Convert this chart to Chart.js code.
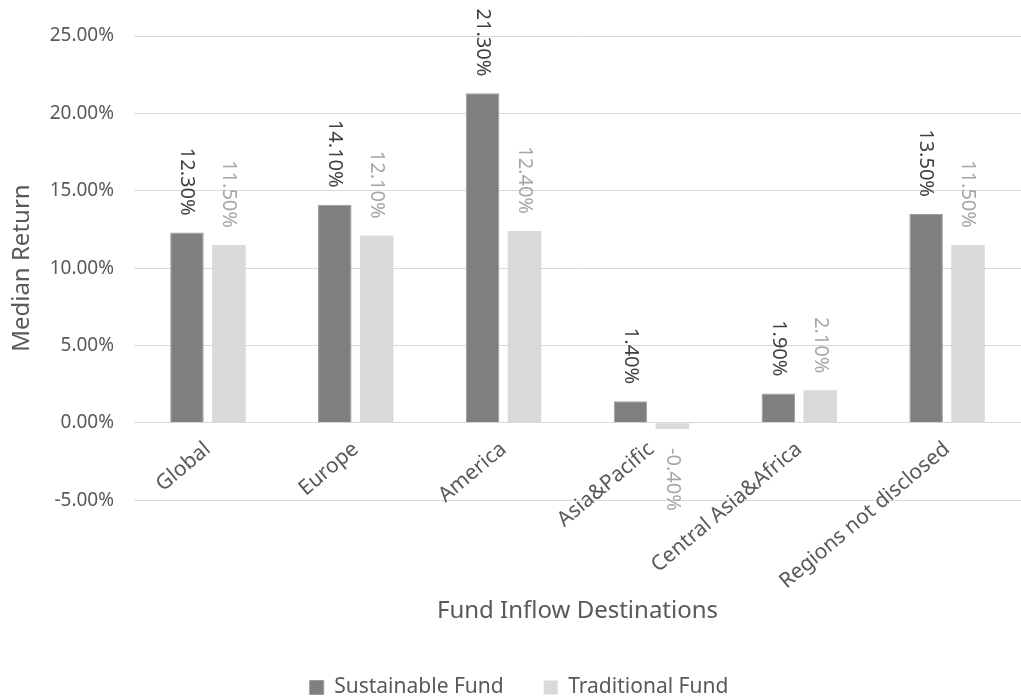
<!DOCTYPE html>
<html>
<head>
<meta charset="utf-8">
<script src="https://cdn.jsdelivr.net/npm/chart.js@4"></script>
<style>
  html, body { margin: 0; padding: 0; background: #fff; overflow: hidden; }
  #wrap { width: 1021px; height: 696px; position: relative; }
</style>
</head>
<body>
<div id="wrap"><canvas id="chart"></canvas></div>
<script>
const regions = ['Global', 'Europe', 'America', 'Asia&Pacific', 'Central Asia&Africa', 'Regions not disclosed'];
const sustainable = [12.3, 14.1, 21.3, 1.4, 1.9, 13.5];
const traditional = [11.5, 12.1, 12.4, -0.4, 2.1, 11.5];
const yMin = -5, yMax = 25, yStep = 5;

const FONT = '"Noto Sans", "DejaVu Sans", sans-serif';
const TEXT = '#595959';

// value labels, rotated like the excel ones
const barLabels = {
  id: 'barLabels',
  afterDatasetsDraw(chart) {
    const ctx = chart.ctx;
    chart.data.datasets.forEach((ds, i) => {
      const meta = chart.getDatasetMeta(i);
      meta.data.forEach((bar, j) => {
        const v = ds.data[j];
        ctx.save();
        ctx.font = '20px ' + FONT;
        ctx.fillStyle = ds.labelColor;
        ctx.textBaseline = 'middle';
        if (v >= 0) {
          ctx.translate(bar.x, bar.y - 17);
          ctx.textAlign = 'right';
        } else {
          ctx.translate(bar.x, bar.y + 19);
          ctx.textAlign = 'left';
        }
        ctx.rotate(Math.PI / 2);
        ctx.fillText(v.toFixed(2) + '%', 0, 0);
        ctx.restore();
      });
    });
  }
};

new Chart(document.getElementById('chart'), {
  type: 'bar',
  data: {
    labels: regions,
    datasets: [
      { label: 'Sustainable Fund', data: sustainable, backgroundColor: '#7f7f7f', borderColor: '#9c9c9c', borderWidth: 1, labelColor: '#404040' },
      { label: 'Traditional Fund', data: traditional, backgroundColor: '#d9d9d9', borderColor: '#d9d9d9', borderWidth: 0, labelColor: '#a6a6a6' }
    ]
  },
  options: {
    responsive: true,
    maintainAspectRatio: false,
    animation: false,
    categoryPercentage: 0.567,
    barPercentage: 0.8,
    layout: { padding: { left: 4, right: -13, top: 36, bottom: -12 } },
    scales: {
      x: {
        position: { y: 0 },
        afterFit: s => { s.height = 1; },
        grid: { display: false },
        border: { display: true, color: '#d9d9d9' },
        ticks: { color: TEXT, font: { family: FONT, size: 21 }, minRotation: 40, maxRotation: 40, autoSkip: false, padding: 6 }
      },
      y: {
        min: yMin, max: yMax,
        afterFit: s => { s.width = 130; },
        grid: { color: '#d9d9d9', drawTicks: false },
        border: { display: false },
        ticks: { stepSize: yStep, padding: 20, color: TEXT, font: { family: FONT, size: 19 }, callback: v => v.toFixed(2) + '%' },
        title: { display: true, text: 'Median Return', color: TEXT, font: { family: FONT, size: 24 } }
      }
    },
    plugins: {
      title: {
        display: true, text: 'Fund Inflow Destinations', position: 'bottom', fullSize: false, weight: 500,
        color: TEXT, font: { family: FONT, size: 24, weight: 'normal' }, padding: { top: 97, bottom: 11 }
      },
      legend: {
        position: 'bottom',
        labels: { color: TEXT, font: { family: FONT, size: 21 }, boxWidth: 14, boxHeight: 14, padding: 40 }
      },
      tooltip: { enabled: false }
    }
  },
  plugins: [barLabels]
});
</script>
</body>
</html>
